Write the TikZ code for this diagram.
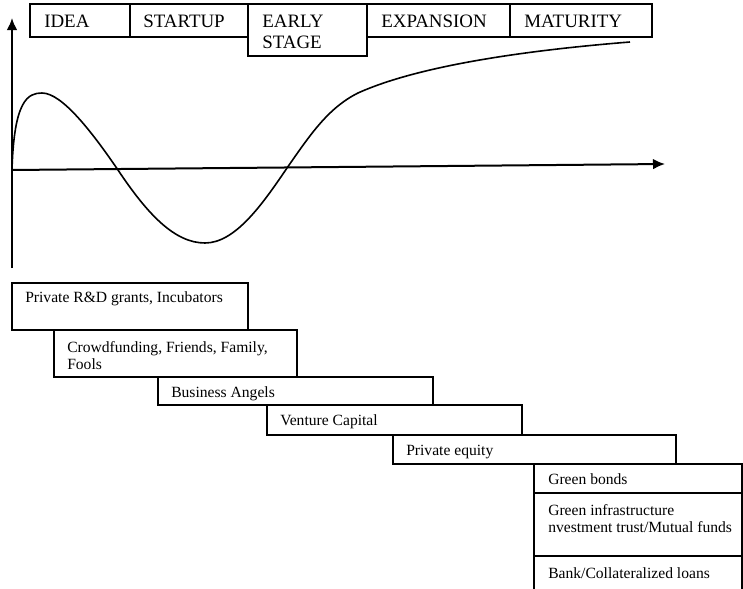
\documentclass[tikz,border=0pt]{standalone}
\usepackage{fontspec}
\setmainfont{Liberation Serif}
\usetikzlibrary{arrows.meta,fit}
\begin{document}
\begin{tikzpicture}[x=0.75pt,y=-0.75pt,
  bx/.style={draw, line width=1.1pt, inner sep=0pt, fit={#1}},
  stagelbl/.style={inner sep=0pt, anchor=base west, font=\fontsize{14.2}{16}\selectfont},
  fundlbl/.style={inner sep=0pt, anchor=base west, font=\fontsize{11.7}{13}\selectfont},
  axis/.style={line width=1.5pt, -{Latex[length=9pt,width=8pt]}},
  curve/.style={line width=1.2pt}]
\useasboundingbox (0,0) rectangle (743,589);
% stage boxes
\node[bx={(30,4) (130,37)}] (idea) {};
\node[bx={(130,4) (248,37)}] (startup) {};
\node[bx={(248,4) (367,56)}] (early) {};
\node[bx={(367,4) (510,37)}] (expansion) {};
\node[bx={(510,4) (652,37)}] (maturity) {};
\node[stagelbl] (tidea) at (44,27) {IDEA};
\node[stagelbl] (tstartup) at (143,27) {STARTUP};
\node[stagelbl] (tearly1) at (262,27) {EARLY};
\node[stagelbl] (tearly2) at (262,48) {STAGE};
\node[stagelbl] (texp) at (381,27) {EXPANSION};
\node[stagelbl] (tmat) at (524,27) {MATURITY};
% axes
\coordinate (o) at (12,170);
\coordinate (ybot) at (12,268);
\coordinate (ytop) at (12,18);
\coordinate (xend) at (665,164);
\draw[axis] (ybot) -- (ytop);
\draw[axis] (o) -- (xend);
% curve
\draw[curve] (o) .. controls (14,100) and (28,93) .. (42,93)
  .. controls (62,93) and (92,132) .. (118,170)
  .. controls (148,215) and (175,243) .. (205,243)
  .. controls (235,243) and (262,205) .. (287,168)
  .. controls (310,135) and (328,108) .. (358,93)
  .. controls (420,65) and (530,50) .. (630,42);
% funding boxes
\node[bx={(12,283) (248,330)}] (rd) {};
\node[bx={(54,330) (297,377)}] (crowd) {};
\node[bx={(158,377) (433,405)}] (angels) {};
\node[bx={(267,405) (522,435)}] (vc) {};
\node[bx={(393,435) (676,464)}] (pe) {};
\node[bx={(534,464) (742,493)}] (gb) {};
\node[bx={(534,493) (742,556)}] (gi) {};
\node[bx={(534,556) (742,590)}] (bank) {};
\node[fundlbl] (trd) at (25,302) {Private R\&D grants, Incubators};
\node[fundlbl] (tcrowd1) at (67,352) {Crowdfunding, Friends, Family,};
\node[fundlbl] (tcrowd2) at (67,369) {Fools};
\node[fundlbl] (tangels) at (171,397) {Business Angels};
\node[fundlbl] (tvc) at (280,425) {Venture Capital};
\node[fundlbl] (tpe) at (406,455) {Private equity};
\node[fundlbl] (tgb) at (548,484) {Green bonds};
\node[fundlbl] (tgi1) at (548,515) {Green infrastructure};
\node[fundlbl] (tgi2) at (548,532) {nvestment trust/Mutual funds};
\node[fundlbl] (tbank) at (548,578) {Bank/Collateralized loans};
\end{tikzpicture}
\end{document}
